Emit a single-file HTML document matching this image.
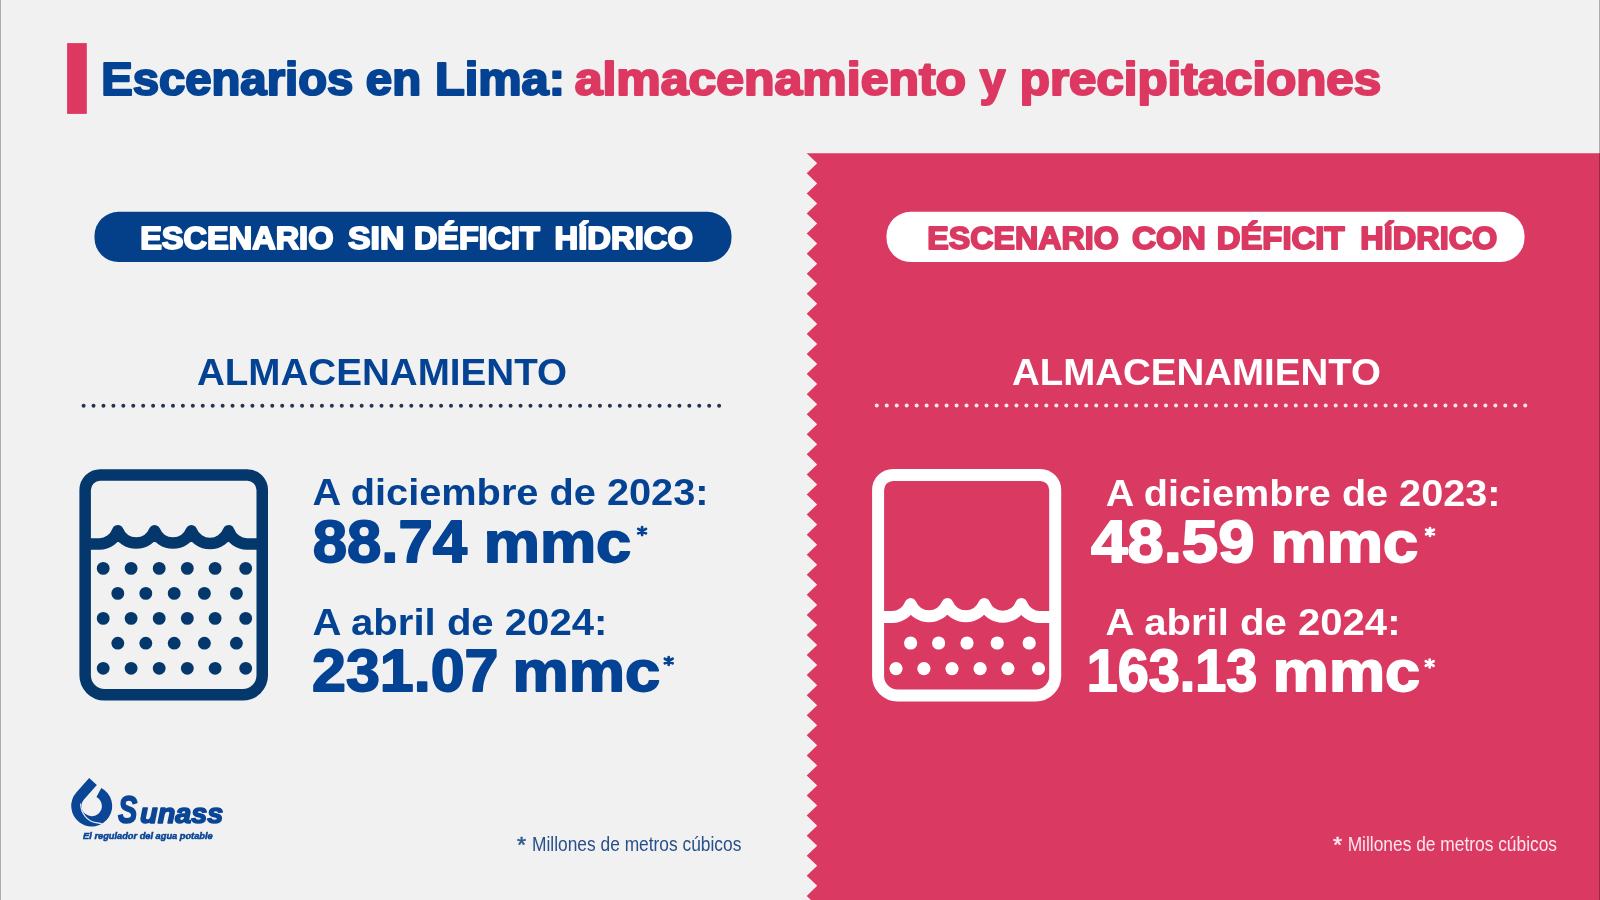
<!DOCTYPE html>
<html><head><meta charset="utf-8"><style>
html,body{margin:0;padding:0;}
body{width:1600px;height:900px;overflow:hidden;background:#f1f1f1;font-family:"Liberation Sans",sans-serif;position:relative;}
svg{position:absolute;left:0;top:0;filter:blur(0.45px);}
svg text{font-family:"Liberation Sans",sans-serif;}
</style></head><body>
<svg width="1600" height="900" viewBox="0 0 1600 900">
<rect x="0" y="0" width="1600" height="900" fill="#f1f1f1"/>
<path d="M1600.00,153.30 L806.70,153.30 L817.20,163.34 L806.70,173.37 L817.20,183.41 L806.70,193.44 L817.20,203.47 L806.70,213.51 L817.20,223.54 L806.70,233.58 L817.20,243.61 L806.70,253.65 L817.20,263.69 L806.70,273.72 L817.20,283.75 L806.70,293.79 L817.20,303.82 L806.70,313.86 L817.20,323.89 L806.70,333.93 L817.20,343.96 L806.70,354.00 L817.20,364.03 L806.70,374.07 L817.20,384.10 L806.70,394.14 L817.20,404.17 L806.70,414.21 L817.20,424.24 L806.70,434.28 L817.20,444.31 L806.70,454.35 L817.20,464.38 L806.70,474.42 L817.20,484.45 L806.70,494.49 L817.20,504.52 L806.70,514.56 L817.20,524.59 L806.70,534.63 L817.20,544.66 L806.70,554.70 L817.20,564.74 L806.70,574.77 L817.20,584.81 L806.70,594.84 L817.20,604.88 L806.70,614.91 L817.20,624.95 L806.70,634.98 L817.20,645.02 L806.70,655.05 L817.20,665.09 L806.70,675.12 L817.20,685.16 L806.70,695.19 L817.20,705.23 L806.70,715.26 L817.20,725.30 L806.70,735.33 L817.20,745.37 L806.70,755.40 L817.20,765.44 L806.70,775.47 L817.20,785.51 L806.70,795.54 L817.20,805.58 L806.70,815.61 L817.20,825.65 L806.70,835.68 L817.20,845.72 L806.70,855.75 L817.20,865.79 L806.70,875.82 L817.20,885.86 L806.70,895.89 L817.20,905.93 L806.70,915.96 L817.20,926.00 L806.70,936.03 L1600.00,936.03 Z" fill="#da3962"/>
<rect x="0" y="0" width="1" height="900" fill="#000" fill-opacity="0.28"/>
<rect x="1599" y="0" width="1" height="900" fill="#000" fill-opacity="0.28"/>
<rect x="67.1" y="43.1" width="19.7" height="70.8" fill="#dc3862"/>
<rect x="94.5" y="211.8" width="637" height="50.3" rx="24" fill="#034089"/>
<rect x="886.5" y="211.8" width="638" height="50.3" rx="24" fill="#ffffff"/>
<circle cx="83.60" cy="405.7" r="2.0" fill="#253450"/>
<circle cx="93.53" cy="405.7" r="2.0" fill="#253450"/>
<circle cx="103.46" cy="405.7" r="2.0" fill="#253450"/>
<circle cx="113.39" cy="405.7" r="2.0" fill="#253450"/>
<circle cx="123.32" cy="405.7" r="2.0" fill="#253450"/>
<circle cx="133.25" cy="405.7" r="2.0" fill="#253450"/>
<circle cx="143.18" cy="405.7" r="2.0" fill="#253450"/>
<circle cx="153.11" cy="405.7" r="2.0" fill="#253450"/>
<circle cx="163.04" cy="405.7" r="2.0" fill="#253450"/>
<circle cx="172.97" cy="405.7" r="2.0" fill="#253450"/>
<circle cx="182.90" cy="405.7" r="2.0" fill="#253450"/>
<circle cx="192.83" cy="405.7" r="2.0" fill="#253450"/>
<circle cx="202.76" cy="405.7" r="2.0" fill="#253450"/>
<circle cx="212.69" cy="405.7" r="2.0" fill="#253450"/>
<circle cx="222.62" cy="405.7" r="2.0" fill="#253450"/>
<circle cx="232.55" cy="405.7" r="2.0" fill="#253450"/>
<circle cx="242.48" cy="405.7" r="2.0" fill="#253450"/>
<circle cx="252.41" cy="405.7" r="2.0" fill="#253450"/>
<circle cx="262.34" cy="405.7" r="2.0" fill="#253450"/>
<circle cx="272.27" cy="405.7" r="2.0" fill="#253450"/>
<circle cx="282.20" cy="405.7" r="2.0" fill="#253450"/>
<circle cx="292.13" cy="405.7" r="2.0" fill="#253450"/>
<circle cx="302.06" cy="405.7" r="2.0" fill="#253450"/>
<circle cx="311.99" cy="405.7" r="2.0" fill="#253450"/>
<circle cx="321.92" cy="405.7" r="2.0" fill="#253450"/>
<circle cx="331.85" cy="405.7" r="2.0" fill="#253450"/>
<circle cx="341.78" cy="405.7" r="2.0" fill="#253450"/>
<circle cx="351.71" cy="405.7" r="2.0" fill="#253450"/>
<circle cx="361.64" cy="405.7" r="2.0" fill="#253450"/>
<circle cx="371.57" cy="405.7" r="2.0" fill="#253450"/>
<circle cx="381.50" cy="405.7" r="2.0" fill="#253450"/>
<circle cx="391.43" cy="405.7" r="2.0" fill="#253450"/>
<circle cx="401.36" cy="405.7" r="2.0" fill="#253450"/>
<circle cx="411.29" cy="405.7" r="2.0" fill="#253450"/>
<circle cx="421.22" cy="405.7" r="2.0" fill="#253450"/>
<circle cx="431.15" cy="405.7" r="2.0" fill="#253450"/>
<circle cx="441.08" cy="405.7" r="2.0" fill="#253450"/>
<circle cx="451.01" cy="405.7" r="2.0" fill="#253450"/>
<circle cx="460.94" cy="405.7" r="2.0" fill="#253450"/>
<circle cx="470.87" cy="405.7" r="2.0" fill="#253450"/>
<circle cx="480.80" cy="405.7" r="2.0" fill="#253450"/>
<circle cx="490.73" cy="405.7" r="2.0" fill="#253450"/>
<circle cx="500.66" cy="405.7" r="2.0" fill="#253450"/>
<circle cx="510.59" cy="405.7" r="2.0" fill="#253450"/>
<circle cx="520.52" cy="405.7" r="2.0" fill="#253450"/>
<circle cx="530.45" cy="405.7" r="2.0" fill="#253450"/>
<circle cx="540.38" cy="405.7" r="2.0" fill="#253450"/>
<circle cx="550.31" cy="405.7" r="2.0" fill="#253450"/>
<circle cx="560.24" cy="405.7" r="2.0" fill="#253450"/>
<circle cx="570.17" cy="405.7" r="2.0" fill="#253450"/>
<circle cx="580.10" cy="405.7" r="2.0" fill="#253450"/>
<circle cx="590.03" cy="405.7" r="2.0" fill="#253450"/>
<circle cx="599.96" cy="405.7" r="2.0" fill="#253450"/>
<circle cx="609.89" cy="405.7" r="2.0" fill="#253450"/>
<circle cx="619.82" cy="405.7" r="2.0" fill="#253450"/>
<circle cx="629.75" cy="405.7" r="2.0" fill="#253450"/>
<circle cx="639.68" cy="405.7" r="2.0" fill="#253450"/>
<circle cx="649.61" cy="405.7" r="2.0" fill="#253450"/>
<circle cx="659.54" cy="405.7" r="2.0" fill="#253450"/>
<circle cx="669.47" cy="405.7" r="2.0" fill="#253450"/>
<circle cx="679.40" cy="405.7" r="2.0" fill="#253450"/>
<circle cx="689.33" cy="405.7" r="2.0" fill="#253450"/>
<circle cx="699.26" cy="405.7" r="2.0" fill="#253450"/>
<circle cx="709.19" cy="405.7" r="2.0" fill="#253450"/>
<circle cx="719.12" cy="405.7" r="2.0" fill="#253450"/>
<circle cx="876.75" cy="405.6" r="2.0" fill="#ffe6ee"/>
<circle cx="886.73" cy="405.6" r="2.0" fill="#ffe6ee"/>
<circle cx="896.70" cy="405.6" r="2.0" fill="#ffe6ee"/>
<circle cx="906.68" cy="405.6" r="2.0" fill="#ffe6ee"/>
<circle cx="916.66" cy="405.6" r="2.0" fill="#ffe6ee"/>
<circle cx="926.63" cy="405.6" r="2.0" fill="#ffe6ee"/>
<circle cx="936.61" cy="405.6" r="2.0" fill="#ffe6ee"/>
<circle cx="946.59" cy="405.6" r="2.0" fill="#ffe6ee"/>
<circle cx="956.57" cy="405.6" r="2.0" fill="#ffe6ee"/>
<circle cx="966.54" cy="405.6" r="2.0" fill="#ffe6ee"/>
<circle cx="976.52" cy="405.6" r="2.0" fill="#ffe6ee"/>
<circle cx="986.50" cy="405.6" r="2.0" fill="#ffe6ee"/>
<circle cx="996.47" cy="405.6" r="2.0" fill="#ffe6ee"/>
<circle cx="1006.45" cy="405.6" r="2.0" fill="#ffe6ee"/>
<circle cx="1016.43" cy="405.6" r="2.0" fill="#ffe6ee"/>
<circle cx="1026.40" cy="405.6" r="2.0" fill="#ffe6ee"/>
<circle cx="1036.38" cy="405.6" r="2.0" fill="#ffe6ee"/>
<circle cx="1046.36" cy="405.6" r="2.0" fill="#ffe6ee"/>
<circle cx="1056.34" cy="405.6" r="2.0" fill="#ffe6ee"/>
<circle cx="1066.31" cy="405.6" r="2.0" fill="#ffe6ee"/>
<circle cx="1076.29" cy="405.6" r="2.0" fill="#ffe6ee"/>
<circle cx="1086.27" cy="405.6" r="2.0" fill="#ffe6ee"/>
<circle cx="1096.24" cy="405.6" r="2.0" fill="#ffe6ee"/>
<circle cx="1106.22" cy="405.6" r="2.0" fill="#ffe6ee"/>
<circle cx="1116.20" cy="405.6" r="2.0" fill="#ffe6ee"/>
<circle cx="1126.17" cy="405.6" r="2.0" fill="#ffe6ee"/>
<circle cx="1136.15" cy="405.6" r="2.0" fill="#ffe6ee"/>
<circle cx="1146.13" cy="405.6" r="2.0" fill="#ffe6ee"/>
<circle cx="1156.11" cy="405.6" r="2.0" fill="#ffe6ee"/>
<circle cx="1166.08" cy="405.6" r="2.0" fill="#ffe6ee"/>
<circle cx="1176.06" cy="405.6" r="2.0" fill="#ffe6ee"/>
<circle cx="1186.04" cy="405.6" r="2.0" fill="#ffe6ee"/>
<circle cx="1196.01" cy="405.6" r="2.0" fill="#ffe6ee"/>
<circle cx="1205.99" cy="405.6" r="2.0" fill="#ffe6ee"/>
<circle cx="1215.97" cy="405.6" r="2.0" fill="#ffe6ee"/>
<circle cx="1225.94" cy="405.6" r="2.0" fill="#ffe6ee"/>
<circle cx="1235.92" cy="405.6" r="2.0" fill="#ffe6ee"/>
<circle cx="1245.90" cy="405.6" r="2.0" fill="#ffe6ee"/>
<circle cx="1255.88" cy="405.6" r="2.0" fill="#ffe6ee"/>
<circle cx="1265.85" cy="405.6" r="2.0" fill="#ffe6ee"/>
<circle cx="1275.83" cy="405.6" r="2.0" fill="#ffe6ee"/>
<circle cx="1285.81" cy="405.6" r="2.0" fill="#ffe6ee"/>
<circle cx="1295.78" cy="405.6" r="2.0" fill="#ffe6ee"/>
<circle cx="1305.76" cy="405.6" r="2.0" fill="#ffe6ee"/>
<circle cx="1315.74" cy="405.6" r="2.0" fill="#ffe6ee"/>
<circle cx="1325.72" cy="405.6" r="2.0" fill="#ffe6ee"/>
<circle cx="1335.69" cy="405.6" r="2.0" fill="#ffe6ee"/>
<circle cx="1345.67" cy="405.6" r="2.0" fill="#ffe6ee"/>
<circle cx="1355.65" cy="405.6" r="2.0" fill="#ffe6ee"/>
<circle cx="1365.62" cy="405.6" r="2.0" fill="#ffe6ee"/>
<circle cx="1375.60" cy="405.6" r="2.0" fill="#ffe6ee"/>
<circle cx="1385.58" cy="405.6" r="2.0" fill="#ffe6ee"/>
<circle cx="1395.55" cy="405.6" r="2.0" fill="#ffe6ee"/>
<circle cx="1405.53" cy="405.6" r="2.0" fill="#ffe6ee"/>
<circle cx="1415.51" cy="405.6" r="2.0" fill="#ffe6ee"/>
<circle cx="1425.49" cy="405.6" r="2.0" fill="#ffe6ee"/>
<circle cx="1435.46" cy="405.6" r="2.0" fill="#ffe6ee"/>
<circle cx="1445.44" cy="405.6" r="2.0" fill="#ffe6ee"/>
<circle cx="1455.42" cy="405.6" r="2.0" fill="#ffe6ee"/>
<circle cx="1465.39" cy="405.6" r="2.0" fill="#ffe6ee"/>
<circle cx="1475.37" cy="405.6" r="2.0" fill="#ffe6ee"/>
<circle cx="1485.35" cy="405.6" r="2.0" fill="#ffe6ee"/>
<circle cx="1495.32" cy="405.6" r="2.0" fill="#ffe6ee"/>
<circle cx="1505.30" cy="405.6" r="2.0" fill="#ffe6ee"/>
<circle cx="1515.28" cy="405.6" r="2.0" fill="#ffe6ee"/>
<circle cx="1525.26" cy="405.6" r="2.0" fill="#ffe6ee"/>
<path d="M100.15,474.95 L247.25,474.95 A15.0,15.0 0 0 1 262.25,489.95 L262.25,675.35 A19.5,19.5 0 0 1 242.75,694.85 L104.65,694.85 A19.5,19.5 0 0 1 85.15,675.35 L85.15,489.95 A15.0,15.0 0 0 1 100.15,474.95 Z" fill="none" stroke="#04386c" stroke-width="11.5"/>
<path d="M85.15,544.00 L99.40,544.00 A19.88,19.88 0 0 0 117.80,530.75 A19.88,19.88 0 0 0 154.60,530.75 A19.88,19.88 0 0 0 191.40,530.75 A19.88,19.88 0 0 0 228.60,530.75 A19.88,19.88 0 0 0 247.00,544.00 L262.25,544.00" fill="none" stroke="#04386c" stroke-width="11.5" stroke-linejoin="round"/>
<circle cx="103.20" cy="568.4" r="6.4" fill="#04386c"/>
<circle cx="131.10" cy="568.4" r="6.4" fill="#04386c"/>
<circle cx="159.20" cy="568.4" r="6.4" fill="#04386c"/>
<circle cx="187.30" cy="568.4" r="6.4" fill="#04386c"/>
<circle cx="215.10" cy="568.4" r="6.4" fill="#04386c"/>
<circle cx="245.70" cy="568.4" r="6.4" fill="#04386c"/>
<circle cx="117.80" cy="593.4" r="6.4" fill="#04386c"/>
<circle cx="145.80" cy="593.4" r="6.4" fill="#04386c"/>
<circle cx="174.20" cy="593.4" r="6.4" fill="#04386c"/>
<circle cx="204.40" cy="593.4" r="6.4" fill="#04386c"/>
<circle cx="236.40" cy="593.4" r="6.4" fill="#04386c"/>
<circle cx="103.20" cy="618.4" r="6.4" fill="#04386c"/>
<circle cx="131.10" cy="618.4" r="6.4" fill="#04386c"/>
<circle cx="159.20" cy="618.4" r="6.4" fill="#04386c"/>
<circle cx="187.30" cy="618.4" r="6.4" fill="#04386c"/>
<circle cx="215.10" cy="618.4" r="6.4" fill="#04386c"/>
<circle cx="245.70" cy="618.4" r="6.4" fill="#04386c"/>
<circle cx="117.80" cy="643.2" r="6.4" fill="#04386c"/>
<circle cx="145.80" cy="643.2" r="6.4" fill="#04386c"/>
<circle cx="174.20" cy="643.2" r="6.4" fill="#04386c"/>
<circle cx="204.40" cy="643.2" r="6.4" fill="#04386c"/>
<circle cx="236.40" cy="643.2" r="6.4" fill="#04386c"/>
<circle cx="103.20" cy="668.3" r="6.4" fill="#04386c"/>
<circle cx="131.10" cy="668.3" r="6.4" fill="#04386c"/>
<circle cx="159.20" cy="668.3" r="6.4" fill="#04386c"/>
<circle cx="187.30" cy="668.3" r="6.4" fill="#04386c"/>
<circle cx="215.10" cy="668.3" r="6.4" fill="#04386c"/>
<circle cx="245.70" cy="668.3" r="6.4" fill="#04386c"/>
<path d="M893.10,474.90 L1040.20,474.90 A15.0,15.0 0 0 1 1055.20,489.90 L1055.20,675.90 A19.5,19.5 0 0 1 1035.70,695.40 L897.60,695.40 A19.5,19.5 0 0 1 878.10,675.90 L878.10,489.90 A15.0,15.0 0 0 1 893.10,474.90 Z" fill="none" stroke="#ffffff" stroke-width="12.0"/>
<path d="M878.10,617.10 L892.20,617.10 A20.04,20.04 0 0 0 910.60,604.10 A20.04,20.04 0 0 0 947.40,604.10 A20.04,20.04 0 0 0 984.20,604.10 A20.04,20.04 0 0 0 1021.40,604.10 A20.04,20.04 0 0 0 1039.80,617.10 L1055.20,617.10" fill="none" stroke="#ffffff" stroke-width="12.0" stroke-linejoin="round"/>
<circle cx="910.60" cy="643.0" r="6.6" fill="#ffffff"/>
<circle cx="938.60" cy="643.0" r="6.6" fill="#ffffff"/>
<circle cx="967.00" cy="643.0" r="6.6" fill="#ffffff"/>
<circle cx="997.20" cy="643.0" r="6.6" fill="#ffffff"/>
<circle cx="1029.20" cy="643.0" r="6.6" fill="#ffffff"/>
<circle cx="896.00" cy="668.6" r="6.6" fill="#ffffff"/>
<circle cx="923.90" cy="668.6" r="6.6" fill="#ffffff"/>
<circle cx="952.00" cy="668.6" r="6.6" fill="#ffffff"/>
<circle cx="980.10" cy="668.6" r="6.6" fill="#ffffff"/>
<circle cx="1007.90" cy="668.6" r="6.6" fill="#ffffff"/>
<circle cx="1038.50" cy="668.6" r="6.6" fill="#ffffff"/>
<path d="M642.10,527.10 L642.10,535.10 M638.20,528.85 L646.00,533.35 M638.20,533.35 L646.00,528.85" stroke="#044294" stroke-width="2.7" stroke-linecap="round" fill="none"/>
<path d="M668.70,657.00 L668.70,665.00 M664.80,658.75 L672.60,663.25 M664.80,663.25 L672.60,658.75" stroke="#044294" stroke-width="2.7" stroke-linecap="round" fill="none"/>
<path d="M1430.00,528.00 L1430.00,536.00 M1426.10,529.75 L1433.90,534.25 M1426.10,534.25 L1433.90,529.75" stroke="#ffffff" stroke-width="2.7" stroke-linecap="round" fill="none"/>
<path d="M1429.70,659.50 L1429.70,667.50 M1425.80,661.25 L1433.60,665.75 M1425.80,665.75 L1433.60,661.25" stroke="#ffffff" stroke-width="2.7" stroke-linecap="round" fill="none"/>
<path d="M98.88,792.49 A15.3,15.3 0 1 1 80.35,795.74 L93.00,781.50" fill="none" stroke="#0a4596" stroke-width="10.3" stroke-linecap="butt"/><path d="M80.6,803.5 C80.8,814 88,821.5 96,822.6 C99,823 101.5,823.6 103.2,824.6" fill="none" stroke="#e4edf7" stroke-width="1.2"/>
<text transform="translate(101.15,94.90) scale(1.0224,1)" font-size="46.22" font-weight="bold" font-style="normal" fill="#044294" stroke="#044294" stroke-width="2.2" stroke-linejoin="round">Escenarios</text>
<text transform="translate(365.87,94.90) scale(1.0257,1)" font-size="46.22" font-weight="bold" font-style="normal" fill="#044294" stroke="#044294" stroke-width="2.2" stroke-linejoin="round">en</text>
<text transform="translate(434.95,94.90) scale(1.0545,1)" font-size="46.22" font-weight="bold" font-style="normal" fill="#044294" stroke="#044294" stroke-width="2.2" stroke-linejoin="round">Lima:</text>
<text transform="translate(574.72,94.90) scale(1.0806,1)" font-size="46.22" font-weight="bold" font-style="normal" fill="#dc3862" stroke="#dc3862" stroke-width="2.2" stroke-linejoin="round">almacenamiento</text>
<text transform="translate(979.80,94.90) scale(0.9962,1)" font-size="46.22" font-weight="bold" font-style="normal" fill="#dc3862" stroke="#dc3862" stroke-width="2.2" stroke-linejoin="round">y</text>
<text transform="translate(1019.82,94.90) scale(1.0658,1)" font-size="46.22" font-weight="bold" font-style="normal" fill="#dc3862" stroke="#dc3862" stroke-width="2.2" stroke-linejoin="round">precipitaciones</text>
<text transform="translate(140.17,248.85) scale(1.0355,1)" font-size="31.40" font-weight="bold" font-style="normal" fill="#ffffff" stroke="#ffffff" stroke-width="1.9" stroke-linejoin="round">ESCENARIO</text>
<text transform="translate(348.02,248.85) scale(1.0748,1)" font-size="31.40" font-weight="bold" font-style="normal" fill="#ffffff" stroke="#ffffff" stroke-width="1.9" stroke-linejoin="round">SIN</text>
<text transform="translate(413.93,248.85) scale(1.0310,1)" font-size="31.40" font-weight="bold" font-style="normal" fill="#ffffff" stroke="#ffffff" stroke-width="1.9" stroke-linejoin="round">DÉFICIT</text>
<text transform="translate(554.60,248.85) scale(1.0438,1)" font-size="31.40" font-weight="bold" font-style="normal" fill="#ffffff" stroke="#ffffff" stroke-width="1.9" stroke-linejoin="round">HÍDRICO</text>
<text transform="translate(927.34,248.85) scale(1.0260,1)" font-size="31.40" font-weight="bold" font-style="normal" fill="#da3962" stroke="#da3962" stroke-width="1.9" stroke-linejoin="round">ESCENARIO</text>
<text transform="translate(1131.91,248.85) scale(1.0612,1)" font-size="31.40" font-weight="bold" font-style="normal" fill="#da3962" stroke="#da3962" stroke-width="1.9" stroke-linejoin="round">CON</text>
<text transform="translate(1216.70,248.85) scale(1.0468,1)" font-size="31.40" font-weight="bold" font-style="normal" fill="#da3962" stroke="#da3962" stroke-width="1.9" stroke-linejoin="round">DÉFICIT</text>
<text transform="translate(1360.32,248.85) scale(1.0338,1)" font-size="31.40" font-weight="bold" font-style="normal" fill="#da3962" stroke="#da3962" stroke-width="1.9" stroke-linejoin="round">HÍDRICO</text>
<text transform="translate(196.90,385.00) scale(1.0212,1)" font-size="37.79" font-weight="bold" font-style="normal" fill="#044294">ALMACENAMIENTO</text>
<text transform="translate(1011.90,385.00) scale(1.0184,1)" font-size="37.79" font-weight="bold" font-style="normal" fill="#ffffff">ALMACENAMIENTO</text>
<text transform="translate(312.48,505.30) scale(1.0520,1)" font-size="37.79" font-weight="bold" font-style="normal" fill="#044294">A diciembre de 2023:</text>
<text transform="translate(312.72,562.10) scale(1.0309,1)" font-size="59.88" font-weight="bold" font-style="normal" fill="#044294" stroke="#044294" stroke-width="1.8" stroke-linejoin="round">88.74</text>
<text transform="translate(483.85,562.10) scale(1.1069,1)" font-size="57.05" font-weight="bold" font-style="normal" fill="#044294" stroke="#044294" stroke-width="1.8" stroke-linejoin="round">mmc</text>
<text transform="translate(312.47,635.30) scale(1.0612,1)" font-size="37.79" font-weight="bold" font-style="normal" fill="#044294">A abril de 2024:</text>
<text transform="translate(312.10,691.40) scale(1.0377,1)" font-size="58.72" font-weight="bold" font-style="normal" fill="#044294" stroke="#044294" stroke-width="1.8" stroke-linejoin="round">231.07</text>
<text transform="translate(512.45,691.40) scale(1.1120,1)" font-size="56.87" font-weight="bold" font-style="normal" fill="#044294" stroke="#044294" stroke-width="1.8" stroke-linejoin="round">mmc</text>
<text transform="translate(1105.63,505.50) scale(1.0485,1)" font-size="37.79" font-weight="bold" font-style="normal" fill="#ffffff">A diciembre de 2023:</text>
<text transform="translate(1090.90,562.10) scale(1.0926,1)" font-size="59.88" font-weight="bold" font-style="normal" fill="#ffffff" stroke="#ffffff" stroke-width="1.8" stroke-linejoin="round">48.59</text>
<text transform="translate(1270.44,562.10) scale(1.1200,1)" font-size="56.50" font-weight="bold" font-style="normal" fill="#ffffff" stroke="#ffffff" stroke-width="1.8" stroke-linejoin="round">mmc</text>
<text transform="translate(1105.62,635.30) scale(1.0612,1)" font-size="37.79" font-weight="bold" font-style="normal" fill="#ffffff">A abril de 2024:</text>
<text transform="translate(1086.72,691.40) scale(0.9492,1)" font-size="58.72" font-weight="bold" font-style="normal" fill="#ffffff" stroke="#ffffff" stroke-width="1.8" stroke-linejoin="round">163.13</text>
<text transform="translate(1272.86,691.40) scale(1.1089,1)" font-size="56.87" font-weight="bold" font-style="normal" fill="#ffffff" stroke="#ffffff" stroke-width="1.8" stroke-linejoin="round">mmc</text>
<text transform="translate(532.04,850.80) scale(0.8532,1)" font-size="20.35" font-weight="normal" font-style="normal" fill="#27508a">Millones de metros cúbicos</text>
<text transform="translate(1347.64,850.80) scale(0.8536,1)" font-size="20.35" font-weight="normal" font-style="normal" fill="#fde6ee">Millones de metros cúbicos</text>
<text transform="translate(517.08,852.06) scale(1.0561,1)" font-size="22.13" font-weight="normal" font-style="normal" fill="#2d5d8c" stroke="#2d5d8c" stroke-width="0.5" stroke-linejoin="round">*</text>
<text transform="translate(1333.08,852.06) scale(1.0561,1)" font-size="22.13" font-weight="normal" font-style="normal" fill="#fde6ee" stroke="#fde6ee" stroke-width="0.5" stroke-linejoin="round">*</text>
<text transform="translate(117.90,822.80) scale(0.7423,1)" font-size="39.10" font-weight="bold" font-style="italic" fill="#0a4596" stroke="#0a4596" stroke-width="1.6" stroke-linejoin="round">S</text>
<text transform="translate(140.10,822.80) scale(1.0212,1)" font-size="28.16" font-weight="bold" font-style="italic" fill="#0a4596" stroke="#0a4596" stroke-width="1.6" stroke-linejoin="round">unass</text>
<text transform="translate(83.11,838.75) scale(0.9971,1)" font-size="9.30" font-weight="bold" font-style="italic" fill="#0a4596" stroke="#0a4596" stroke-width="0.5" stroke-linejoin="round">El regulador del agua potable</text>
</svg>
</body></html>
